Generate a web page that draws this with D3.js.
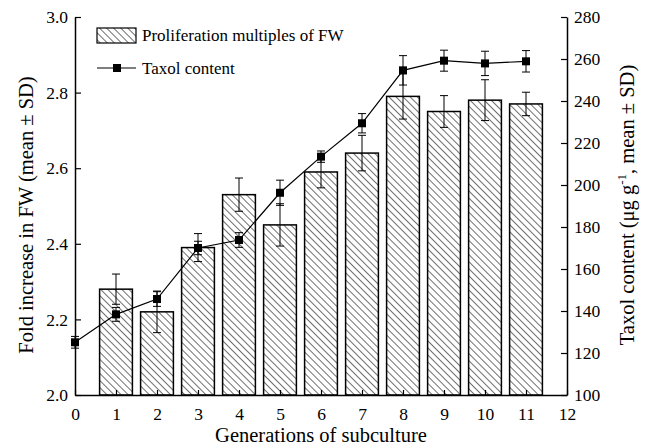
<!DOCTYPE html>
<html>
<head>
<meta charset="utf-8">
<script src="https://cdn.jsdelivr.net/npm/d3@7"></script>
<style>
  body { margin: 0; background: #fff; }
  svg, svg text { font-family: 'Liberation Serif', 'Times New Roman', Times, serif !important; fill: #000; }
</style>
</head>
<body>
<div id="chart"></div>
<script>
// data
var gens = [1, 2, 3, 4, 5, 6, 7, 8, 9, 10, 11];
var fwMean = [2.28, 2.22, 2.39, 2.53, 2.45, 2.59, 2.64, 2.79, 2.75, 2.78, 2.77];
var fwSD = [0.04, 0.055, 0.037, 0.044, 0.056, 0.042, 0.047, 0.06, 0.042, 0.054, 0.031];

var taxolGens = [0, 1, 2, 3, 4, 5, 6, 7, 8, 9, 10, 11];
var taxolMean = [125.1, 138.4, 145.7, 170, 173.8, 196.3, 213.5, 229.4, 254.6, 259.2, 257.9, 258.9];
var taxolSD = [2.8, 3.3, 3.5, 3.2, 3.5, 6, 2.7, 4.6, 7, 5, 5.8, 5.1];

var xTicks = d3.range(0, 13);
var leftTicks = [2.0, 2.2, 2.4, 2.6, 2.8, 3.0];
var rightTicks = [100, 120, 140, 160, 180, 200, 220, 240, 260, 280];

var svgWidth = 646;
var svgHeight = 448;
var margin = { top: 17, right: 79, bottom: 53, left: 75 };
var width = svgWidth - margin.left - margin.right;
var height = svgHeight - margin.top - margin.bottom;

var svg = d3.select("#chart")
    .append("svg")
    .attr("width", svgWidth)
    .attr("height", svgHeight);

// hatch pattern for the bars ("\\\\" direction)
var defs = svg.append("defs");
var pat = defs.append("pattern")
    .attr("id", "hatch")
    .attr("patternUnits", "userSpaceOnUse")
    .attr("width", 5)
    .attr("height", 5)
    .attr("patternTransform", "rotate(-45)");
pat.append("rect").attr("width", 5).attr("height", 5).attr("fill", "#fff");
pat.append("line")
    .attr("x1", 0).attr("y1", 0).attr("x2", 0).attr("y2", 5)
    .attr("stroke", "#222").attr("stroke-width", 1.3);

var chartGroup = svg.append("g")
    .attr("transform", `translate(${margin.left}, ${margin.top})`);

var x = d3.scaleLinear().domain([0, 12]).range([0, width]);
var yLeft = d3.scaleLinear().domain([2.0, 3.0]).range([height, 0]);
var yRight = d3.scaleLinear().domain([100, 280]).range([height, 0]);

var barW = x(0.8) - x(0);
var capW = 8;

// bars
chartGroup.selectAll(".bar")
    .data(gens)
    .enter()
    .append("rect")
    .attr("class", "bar")
    .attr("x", (d, i) => x(d) - barW / 2)
    .attr("y", (d, i) => yLeft(fwMean[i]))
    .attr("width", barW)
    .attr("height", (d, i) => height - yLeft(fwMean[i]))
    .attr("fill", "url(#hatch)")
    .attr("stroke", "#000")
    .attr("stroke-width", 1.5);

// error bars helper
function errorBars(xs, means, sds, scale, cls) {
    var g = chartGroup.append("g").attr("class", cls);
    xs.forEach(function (d, i) {
        var cx = x(d);
        var top = scale(means[i] + sds[i]);
        var bot = scale(means[i] - sds[i]);
        g.append("line").attr("x1", cx).attr("x2", cx).attr("y1", top).attr("y2", bot);
        g.append("line").attr("x1", cx - capW / 2).attr("x2", cx + capW / 2).attr("y1", top).attr("y2", top);
        g.append("line").attr("x1", cx - capW / 2).attr("x2", cx + capW / 2).attr("y1", bot).attr("y2", bot);
    });
    g.selectAll("line").attr("stroke", "#000").attr("stroke-width", 1);
}

errorBars(gens, fwMean, fwSD, yLeft, "fw-err");

// taxol line
var line = d3.line()
    .x((d, i) => x(taxolGens[i]))
    .y(d => yRight(d));

chartGroup.append("path")
    .datum(taxolMean)
    .attr("d", line)
    .attr("fill", "none")
    .attr("stroke", "#000")
    .attr("stroke-width", 1.2);

errorBars(taxolGens, taxolMean, taxolSD, yRight, "taxol-err");

var mk = 8;
chartGroup.selectAll(".mark")
    .data(taxolMean)
    .enter()
    .append("rect")
    .attr("class", "mark")
    .attr("x", (d, i) => x(taxolGens[i]) - mk / 2)
    .attr("y", d => yRight(d) - mk / 2)
    .attr("width", mk)
    .attr("height", mk)
    .attr("fill", "#000");

// axes, ticks pointing inward
var bottomAxis = d3.axisBottom(x).tickValues(xTicks).tickSizeInner(-5).tickSizeOuter(0).tickPadding(13);
var leftAxis = d3.axisLeft(yLeft).tickValues(leftTicks).tickFormat(d3.format(".1f")).tickSizeInner(-6).tickSizeOuter(0).tickPadding(7);
var rightAxis = d3.axisRight(yRight).tickValues(rightTicks).tickSizeInner(-6).tickSizeOuter(0).tickPadding(7);

var xAxisG = chartGroup.append("g")
    .attr("transform", `translate(0, ${height})`)
    .call(bottomAxis);
var yAxisG = chartGroup.append("g").call(leftAxis);
var y2AxisG = chartGroup.append("g")
    .attr("transform", `translate(${width}, 0)`)
    .call(rightAxis);

[xAxisG, yAxisG, y2AxisG].forEach(function (g) {
    g.attr("font-family", null).attr("font-size", 17.5);
    g.select(".domain").attr("stroke", "#000").attr("stroke-width", 1.5);
    g.selectAll(".tick line").attr("stroke", "#000").attr("stroke-width", 1.2);
    g.selectAll(".tick text").attr("fill", "#000");
});

// axis titles
svg.append("text")
    .attr("x", margin.left + width / 2)
    .attr("y", 442)
    .attr("text-anchor", "middle")
    .attr("font-size", 20.5)
    .text("Generations of subculture");

svg.append("text")
    .attr("transform", "translate(33, 215) rotate(-90)")
    .attr("text-anchor", "middle")
    .attr("font-size", 20.5)
    .text("Fold increase in FW (mean \u00b1 SD)");

var rt = svg.append("text")
    .attr("transform", "translate(634, 205) rotate(-90)")
    .attr("text-anchor", "middle")
    .attr("font-size", 20.5);
rt.append("tspan").text("Taxol content (\u03bcg g");
rt.append("tspan").attr("dy", -8).attr("font-size", 13).text("-1");
rt.append("tspan").attr("dy", 8).text(", mean \u00b1 SD)");

// legend
var legend = svg.append("g");
legend.append("rect")
    .attr("x", 97).attr("y", 28)
    .attr("width", 39).attr("height", 15)
    .attr("fill", "url(#hatch)")
    .attr("stroke", "#000")
    .attr("stroke-width", 1.2);
legend.append("text")
    .attr("x", 142).attr("y", 41)
    .attr("font-size", 17)
    .text("Proliferation multiples of FW");

legend.append("line")
    .attr("x1", 97).attr("x2", 136)
    .attr("y1", 68).attr("y2", 68)
    .attr("stroke", "#000").attr("stroke-width", 1.2);
legend.append("rect")
    .attr("x", 117 - mk / 2).attr("y", 68 - mk / 2)
    .attr("width", mk).attr("height", mk)
    .attr("fill", "#000");
legend.append("text")
    .attr("x", 142).attr("y", 74)
    .attr("font-size", 17)
    .text("Taxol content");
</script>
</body>
</html>
